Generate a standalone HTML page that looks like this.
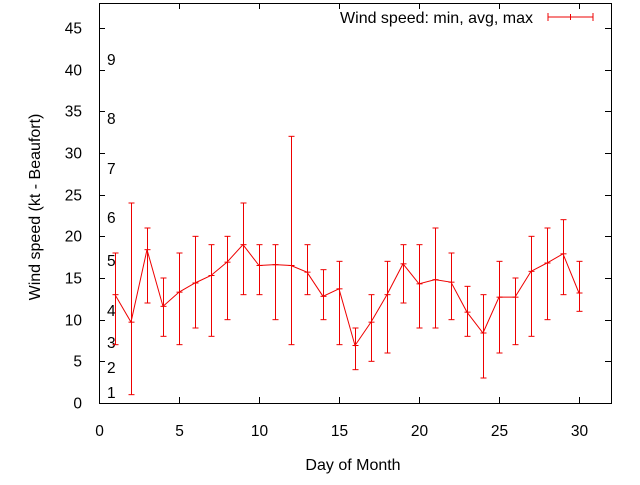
<!DOCTYPE html>
<html><head><meta charset="utf-8"><style>
body{margin:0;background:#fff}
svg text{font-family:"Liberation Sans",sans-serif;font-size:16px;fill:#000}
svg text.tk{font-size:15.5px}
</style></head><body>
<svg id="chart" width="640" height="480" xmlns="http://www.w3.org/2000/svg">
<g id="axes"></g><g id="series"></g>
<text x="353" y="470" text-anchor="middle">Day of Month</text>
<text transform="translate(40,207) rotate(-90)" text-anchor="middle">Wind speed (kt - Beaufort)</text>
<g>
<text x="533" y="23" text-anchor="end">Wind speed: min, avg, max</text>
<line x1="548" y1="17" x2="593" y2="17" stroke="#e00" stroke-width="1"/>
<line x1="548" y1="13" x2="548" y2="21" stroke="#e00"/>
<line x1="593" y1="13" x2="593" y2="21" stroke="#e00"/>
<line x1="570.5" y1="14" x2="570.5" y2="20" stroke="#e00"/>
</g>
</svg>
<script>
const days=[1,2,3,4,5,6,7,8,9,10,11,12,13,14,15,16,17,18,19,20,21,22,23,24,25,26,27,28,29,30];
const avgSpeed=[13,9.7,18.4,11.6,13.3,14.4,15.3,16.9,19,16.5,16.6,16.5,15.7,12.8,13.7,6.9,9.7,13,16.7,14.3,14.8,14.5,10.9,8.4,12.7,12.7,15.8,16.8,17.9,13.2];
const minSpeed=[7,1,12,8,7,9,8,10,13,13,10,7,13,10,7,4,5,6,12,9,9,10,8,3,6,7,8,10,13,11];
const maxSpeed=[18,24,21,15,18,20,19,20,24,19,19,32,19,16,17,9,13,17,19,19,21,18,14,13,17,15,20,21,22,17];
const xTicks=[0,5,10,15,20,25,30];
const yTicks=[0,5,10,15,20,25,30,35,40,45];
const beaufort=[[1,1],[2,4],[3,7],[4,11],[5,17],[6,22],[7,28],[8,34],[9,41]];
const L=99,R=611,T=3,B=403,XMAX=32,YMAX=48;
const X=v=>L+v/XMAX*(R-L), Y=v=>B-v/YMAX*(B-T);
const NS='http://www.w3.org/2000/svg';
function mk(tag,attrs,parent,txt){const e=document.createElementNS(NS,tag);for(const k in attrs)e.setAttribute(k,attrs[k]);if(txt!==undefined)e.textContent=txt;parent.appendChild(e);return e;}
const ax=document.getElementById('axes'),se=document.getElementById('series');
const frame=mk('rect',{x:L+.5,y:T+.5,width:R-L,height:B-T,fill:'none',stroke:'#000'},ax);


xTicks.forEach(v=>{const x=Math.round(X(v))+.5;
mk('line',{x1:x,y1:B,x2:x,y2:B-6,stroke:'#000'},ax);mk('line',{x1:x,y1:T,x2:x,y2:T+6,stroke:'#000'},ax);
const t=mk('text',{x:x,y:B+33,'text-anchor':'middle','class':'tk'},ax,v);

});
yTicks.forEach(v=>{const y=Math.round(Y(v))+.5;
mk('line',{x1:L,y1:y,x2:L+6,y2:y,stroke:'#000'},ax);mk('line',{x1:R,y1:y,x2:R-6,y2:y,stroke:'#000'},ax);
const t=mk('text',{x:82,y:y+5,'text-anchor':'end','class':'tk'},ax,v);

});
const bpos=[393,368,343,311,261,218,169,119,60];
beaufort.forEach((b,i)=>{const t=mk('text',{x:107,y:bpos[i]+5,'class':'tk'},ax,b[0]);

});
const pts=days.map((d,i)=>X(d)+','+Y(avgSpeed[i])).join(' ');
const pl=mk('polyline',{points:pts,fill:'none',stroke:'#e00','stroke-width':1},se);


days.forEach((d,i)=>{const x=Math.round(X(d))+.5;const g=mk('g',{stroke:'#e00'},se);


mk('line',{x1:x,y1:Y(minSpeed[i]),x2:x,y2:Y(maxSpeed[i])},g);
mk('line',{x1:x-3,y1:Y(minSpeed[i]),x2:x+3,y2:Y(minSpeed[i])},g);
mk('line',{x1:x-3,y1:Y(maxSpeed[i]),x2:x+3,y2:Y(maxSpeed[i])},g);
mk('line',{x1:x-3,y1:Y(avgSpeed[i]),x2:x+3,y2:Y(avgSpeed[i])},g);});
</script>
</body></html>
